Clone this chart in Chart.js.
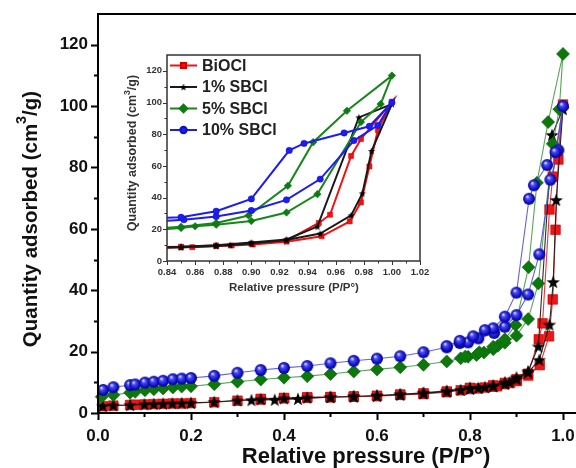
<!DOCTYPE html>
<html>
<head>
<meta charset="utf-8">
<title>N2 isotherms</title>
<script src="https://cdn.jsdelivr.net/npm/chart.js@4.4.0/dist/chart.umd.min.js"></script>
<style>
  html, body { margin: 0; padding: 0; background: #fff; }
  #wrap { position: relative; width: 576px; height: 468px; overflow: hidden; }
  #mainChart { position: absolute; left: 0; top: 0; }
  #insetChart { position: absolute; left: 115px; top: 45px; }
</style>
</head>
<body>
<div id="wrap">
  <canvas id="mainChart" width="576" height="468"></canvas>
  <canvas id="insetChart" width="320" height="260"></canvas>
</div>
<script>
"use strict";

// N2 adsorption-desorption isotherms: relative pressure P/P° vs quantity adsorbed (cm3/g)
const sampleNames = ['BiOCl', '1% SBCl', '5% SBCl', '10% SBCl'];

const bioclAdsP = [0.011, 0.033, 0.069, 0.080, 0.101, 0.120, 0.140, 0.161, 0.180, 0.200, 0.250, 0.300, 0.350, 0.400, 0.450, 0.500, 0.550, 0.600, 0.650, 0.700, 0.750, 0.780, 0.800, 0.818, 0.832, 0.850, 0.858, 0.875, 0.886, 0.901, 0.925, 0.950, 0.970, 0.978, 0.984, 0.990, 1.000];
const bioclAdsV = [2.2, 2.4, 2.6, 2.7, 2.8, 2.9, 3.0, 3.1, 3.1, 3.2, 3.5, 4.0, 4.4, 4.8, 5.0, 5.1, 5.3, 5.5, 5.9, 6.2, 6.8, 7.4, 7.8, 8.0, 8.3, 8.6, 8.7, 9.4, 9.8, 10.4, 12.2, 15.6, 25.0, 37.0, 59.7, 82.6, 100.5];
const bioclDesP = [0.978, 0.971, 0.956, 0.948, 0.925, 0.900, 0.875, 0.850, 0.800, 0.750, 0.700, 0.650, 0.600, 0.550, 0.500, 0.450, 0.400, 0.350];
const bioclDesV = [77.0, 66.3, 29.2, 24.0, 12.8, 11.0, 9.8, 9.0, 8.2, 7.0, 6.4, 6.0, 5.6, 5.4, 5.2, 5.1, 4.9, 4.6];

const sb1AdsP = [0.010, 0.033, 0.069, 0.100, 0.120, 0.140, 0.160, 0.180, 0.200, 0.250, 0.300, 0.350, 0.400, 0.450, 0.500, 0.550, 0.600, 0.650, 0.700, 0.750, 0.780, 0.800, 0.818, 0.832, 0.850, 0.875, 0.885, 0.900, 0.925, 0.949, 0.971, 0.979, 0.9855, 1.000];
const sb1AdsV = [2.3, 2.5, 2.6, 2.8, 2.9, 3.0, 3.1, 3.2, 3.3, 3.6, 4.1, 4.5, 4.8, 5.0, 5.2, 5.4, 5.6, 6.0, 6.4, 7.0, 7.5, 7.9, 8.2, 8.4, 8.7, 9.5, 10.0, 11.0, 13.2, 17.3, 28.8, 42.7, 69.4, 99.0];
const sb1DesP = [0.9765, 0.947, 0.925, 0.900, 0.875, 0.850, 0.800, 0.750, 0.700, 0.650, 0.600, 0.550, 0.500, 0.430, 0.380, 0.330];
const sb1DesV = [90.6, 21.7, 13.6, 11.6, 10.0, 9.0, 8.2, 7.2, 6.6, 6.1, 5.7, 5.4, 5.2, 4.6, 4.3, 4.2];

const sb5AdsP = [0.008, 0.033, 0.069, 0.080, 0.101, 0.120, 0.140, 0.161, 0.180, 0.200, 0.250, 0.300, 0.350, 0.400, 0.450, 0.500, 0.550, 0.600, 0.650, 0.700, 0.750, 0.780, 0.796, 0.814, 0.830, 0.850, 0.860, 0.875, 0.900, 0.925, 0.947, 0.978, 0.992, 1.000];
const sb5AdsV = [5.3, 5.9, 6.6, 6.9, 7.4, 7.7, 8.0, 8.3, 8.6, 8.7, 9.4, 10.2, 10.9, 11.5, 12.0, 12.7, 13.5, 14.2, 14.9, 15.7, 16.8, 17.8, 18.3, 18.9, 19.7, 20.8, 21.9, 22.9, 25.2, 30.6, 42.2, 87.7, 99.0, 117.0];
const sb5DesP = [0.968, 0.944, 0.926, 0.898, 0.875, 0.850, 0.820, 0.790];
const sb5DesV = [94.8, 75.0, 47.5, 28.7, 24.0, 21.6, 19.8, 18.4];

const sb10AdsP = [0.011, 0.033, 0.069, 0.080, 0.101, 0.120, 0.140, 0.161, 0.180, 0.200, 0.250, 0.300, 0.350, 0.400, 0.450, 0.500, 0.550, 0.600, 0.650, 0.700, 0.750, 0.778, 0.796, 0.818, 0.852, 0.875, 0.900, 0.925, 0.949, 0.973, 0.990, 1.000];
const sb10AdsV = [7.5, 8.4, 9.1, 9.3, 9.9, 10.2, 10.5, 11.0, 11.2, 11.4, 12.1, 13.1, 14.0, 14.7, 15.3, 16.2, 17.0, 17.7, 18.5, 19.8, 21.4, 22.8, 23.0, 24.3, 26.1, 28.1, 31.9, 38.6, 51.7, 76.0, 85.6, 100.0];
const sb10DesP = [0.984, 0.966, 0.9375, 0.927, 0.900, 0.875, 0.850, 0.832, 0.807, 0.778, 0.750];
const sb10DesV = [85.0, 80.8, 74.2, 69.8, 39.2, 31.4, 27.6, 27.0, 25.0, 23.5, 21.8];

// axis ticks
const mainXTicks = [0, 0.2, 0.4, 0.6, 0.8, 1.0];
const mainXMinor = [0.1, 0.3, 0.5, 0.7, 0.9];
const mainYTicks = [0, 20, 40, 60, 80, 100, 120];
const mainYMinor = [10, 30, 50, 70, 90, 110];
const insetXTicks = [0.84, 0.86, 0.88, 0.90, 0.92, 0.94, 0.96, 0.98, 1.00, 1.02];
const insetXMinor = [0.85, 0.87, 0.89, 0.91, 0.93, 0.95, 0.97, 0.99, 1.01];
const insetYTicks = [0, 20, 40, 60, 80, 100, 120];
const insetYMinor = [10, 30, 50, 70, 90, 110];

const FONT = "'Liberation Sans', Arial, Helvetica, sans-serif";

// adsorption branch up to P/P°=1, then back down along desorption
function loop(adsP, adsV, desP, desV) {
  const pts = adsP.map((p, i) => ({ x: p, y: adsV[i] }));
  desP.forEach((p, i) => pts.push({ x: p, y: desV[i] }));
  return pts;
}

const loops = [
  loop(bioclAdsP, bioclAdsV, bioclDesP, bioclDesV),
  loop(sb1AdsP, sb1AdsV, sb1DesP, sb1DesV),
  loop(sb5AdsP, sb5AdsV, sb5DesP, sb5DesV),
  loop(sb10AdsP, sb10AdsV, sb10DesP, sb10DesV)
];

// marker sprites
function starImage(r, color) {
  const s = Math.ceil(r * 2 + 2);
  const c = document.createElement('canvas');
  c.width = c.height = s;
  const g = c.getContext('2d');
  g.translate(s / 2, s / 2 + r * 0.08);
  g.beginPath();
  for (let k = 0; k < 10; k++) {
    const rr = k % 2 ? r * 0.42 : r;
    const a = -Math.PI / 2 + k * Math.PI / 5;
    g.lineTo(rr * Math.cos(a), rr * Math.sin(a));
  }
  g.closePath();
  g.fillStyle = color;
  g.fill();
  return c;
}

function sphereImage(r) {
  const s = Math.ceil(r * 2 + 2);
  const c = document.createElement('canvas');
  c.width = c.height = s;
  const g = c.getContext('2d');
  g.translate(s / 2, s / 2);
  const grad = g.createRadialGradient(-r * 0.3, -r * 0.38, r * 0.05, 0, 0, r);
  grad.addColorStop(0, '#e4e4ff');
  grad.addColorStop(0.3, '#4b4bf0');
  grad.addColorStop(0.75, '#1010c8');
  grad.addColorStop(1, '#00008a');
  g.beginPath();
  g.arc(0, 0, r, 0, Math.PI * 2);
  g.fillStyle = grad;
  g.fill();
  return c;
}

// frame and outward tick marks
const axisFrame = {
  id: 'axisFrame',
  afterDatasetsDraw(chart, args, o) {
    const { ctx, chartArea: a, scales: { x, y } } = chart;
    ctx.save();
    ctx.strokeStyle = o.color;
    ctx.lineWidth = o.width;
    ctx.lineCap = 'square';
    ctx.beginPath();
    ctx.moveTo(a.left, a.bottom);
    ctx.lineTo(a.left, a.top);
    ctx.lineTo(a.right, a.top);
    if (o.box) ctx.lineTo(a.right, a.bottom);
    ctx.moveTo(a.left, a.bottom);
    ctx.lineTo(a.right, a.bottom);
    ctx.stroke();

    ctx.lineCap = 'butt';
    ctx.lineWidth = o.tickWidth;
    ctx.beginPath();
    const xt = (vals, len) => vals.forEach(v => {
      const px = Math.round(x.getPixelForValue(v)) + 0.5;
      ctx.moveTo(px, a.bottom);
      ctx.lineTo(px, a.bottom + len);
    });
    const yt = (vals, len) => vals.forEach(v => {
      const py = Math.round(y.getPixelForValue(v)) + 0.5;
      ctx.moveTo(a.left - len, py);
      ctx.lineTo(a.left, py);
    });
    xt(o.xMajor, o.majorLen); xt(o.xMinor, o.minorLen);
    yt(o.yMajor, o.majorLen); yt(o.yMinor, o.minorLen);
    ctx.stroke();
    ctx.restore();
  }
};

// axis titles, y title carries a superscript
function drawParts(ctx, parts, size) {
  const sup = size * 0.7;
  const widths = parts.map((t, i) => {
    ctx.font = `bold ${i === 1 ? sup : size}px ${FONT}`;
    return ctx.measureText(t).width;
  });
  let cx = -widths.reduce((s, w) => s + w, 0) / 2;
  parts.forEach((t, i) => {
    ctx.font = `bold ${i === 1 ? sup : size}px ${FONT}`;
    ctx.fillText(t, cx, i === 1 ? -size * 0.42 : 0);
    cx += widths[i];
  });
}

const axisTitles = {
  id: 'axisTitles',
  afterDraw(chart, args, o) {
    const ctx = chart.ctx;
    ctx.save();
    ctx.fillStyle = o.color;
    ctx.textBaseline = 'middle';
    ctx.textAlign = 'center';
    ctx.font = `bold ${o.xSize}px ${FONT}`;
    ctx.fillText(o.xText, o.xPos[0], o.xPos[1]);
    ctx.translate(o.yPos[0], o.yPos[1]);
    ctx.rotate(-Math.PI / 2);
    ctx.textAlign = 'left';
    drawParts(ctx, o.yParts, o.ySize);
    ctx.restore();
  }
};

// line + marker legend inside the inset
const insetLegend = {
  id: 'insetLegend',
  afterDraw(chart, args, o) {
    const ctx = chart.ctx;
    ctx.save();
    chart.data.datasets.forEach((ds, i) => {
      const y = o.top + i * o.gap;
      ctx.strokeStyle = ds.borderColor;
      ctx.lineWidth = ds.borderWidth;
      ctx.beginPath();
      ctx.moveTo(o.left, y);
      ctx.lineTo(o.left + o.lineLen, y);
      ctx.stroke();
      ctx.fillStyle = ds.pointBackgroundColor;
      ctx.strokeStyle = ds.pointBorderColor;
      Chart.helpers.drawPoint(ctx, {
        pointStyle: ds.pointStyle, radius: ds.pointRadius, rotation: 0, borderWidth: 0.5
      }, o.left + o.lineLen / 2, y);
      ctx.fillStyle = o.color;
      ctx.font = `bold ${o.size}px ${FONT}`;
      ctx.textBaseline = 'middle';
      ctx.textAlign = 'left';
      ctx.fillText(ds.label, o.left + o.lineLen + o.textGap, y + 1);
    });
    ctx.restore();
  }
};

function fixedScale(ticks, size, fmt, fit) {
  return {
    type: 'linear',
    afterBuildTicks: s => { s.ticks = ticks.map(v => ({ value: v })); },
    afterFit: fit,
    grid: { display: false, drawTicks: false },
    border: { display: false },
    ticks: {
      autoSkip: false, maxRotation: 0, color: '#111',
      font: { family: FONT, size: size, weight: 'bold' },
      callback: fmt
    }
  };
}

// main isotherm plot
const mainStyles = [
  { borderColor: 'rgba(225,20,20,0.85)', pointStyle: 'rect', pointRadius: 6.8, pointBackgroundColor: '#f01414', pointBorderColor: '#c40000' },
  { borderColor: 'rgba(20,20,20,0.9)', pointStyle: starImage(7, '#050505'), pointRadius: 7, pointBackgroundColor: '#000', pointBorderColor: '#000' },
  { borderColor: 'rgba(50,140,50,0.8)', pointStyle: 'rectRot', pointRadius: 6.5, pointBackgroundColor: '#0c780c', pointBorderColor: '#0a600a' },
  { borderColor: 'rgba(70,70,215,0.85)', pointStyle: sphereImage(6), pointRadius: 6, pointBackgroundColor: '#1010c8', pointBorderColor: '#00008a' }
];
const drawOrder = [3, 2, 1, 0];

const mainX = fixedScale(mainXTicks, 17, v => v.toFixed(1), s => { s.height = 55; s.paddingLeft = 0; s.paddingRight = 0; });
mainX.min = 0; mainX.max = 1.028; mainX.ticks.padding = 13;
const mainY = fixedScale(mainYTicks, 17, v => String(v), s => { s.width = 98; s.paddingTop = 0; s.paddingBottom = 0; });
mainY.min = 0; mainY.max = 130; mainY.ticks.padding = 10;

new Chart(document.getElementById('mainChart'), {
  type: 'scatter',
  data: {
    datasets: loops.map((pts, i) => Object.assign({
      label: sampleNames[i], data: pts, showLine: true, borderWidth: 1.1,
      pointBorderWidth: 0.6, order: drawOrder[i], clip: false
    }, mainStyles[i]))
  },
  options: {
    responsive: false, animation: false, devicePixelRatio: 1,
    layout: { autoPadding: false, padding: { top: 14, right: 0, left: 0, bottom: 0 } },
    scales: { x: mainX, y: mainY },
    plugins: {
      legend: { display: false }, tooltip: { enabled: false },
      axisFrame: { color: '#000', width: 2, box: false, tickWidth: 2, majorLen: 7, minorLen: 4,
        xMajor: mainXTicks, xMinor: mainXMinor, yMajor: mainYTicks, yMinor: mainYMinor },
      axisTitles: { color: '#111', xText: 'Relative pressure (P/P°)', xSize: 22, xPos: [366, 457],
        yParts: ['Quantity adsorbed (cm', '3', '/g)'], ySize: 20.5, yPos: [31, 219] }
    }
  },
  plugins: [axisFrame, axisTitles]
});

// inset: zoom on the hysteresis loops
const insetStyles = [
  { borderColor: '#f41010', pointStyle: 'rect', pointRadius: 3.6, pointBackgroundColor: '#f41010', pointBorderColor: '#d00000' },
  { borderColor: '#1a1a1a', pointStyle: starImage(3.8, '#000'), pointRadius: 3.8, pointBackgroundColor: '#000', pointBorderColor: '#000' },
  { borderColor: '#16871a', pointStyle: 'rectRot', pointRadius: 3.8, pointBackgroundColor: '#0f7a12', pointBorderColor: '#0f7a12' },
  { borderColor: '#1c1cf4', pointStyle: 'circle', pointRadius: 3.2, pointBackgroundColor: '#1c1cf4', pointBorderColor: '#1010c0' }
];

const insetX = fixedScale(insetXTicks, 9.5, v => v.toFixed(2), s => { s.height = 44; s.paddingLeft = 0; s.paddingRight = 0; });
insetX.min = 0.84; insetX.max = 1.02; insetX.ticks.padding = 6; insetX.ticks.color = '#333';
const insetY = fixedScale(insetYTicks, 9.5, v => String(v), s => { s.width = 52; s.paddingTop = 0; s.paddingBottom = 0; });
insetY.min = 0; insetY.max = 130; insetY.ticks.padding = 5; insetY.ticks.color = '#333';

new Chart(document.getElementById('insetChart'), {
  type: 'scatter',
  data: {
    datasets: loops.map((pts, i) => Object.assign({
      label: sampleNames[i], data: pts, showLine: true, borderWidth: 2,
      pointBorderWidth: 0.5, order: drawOrder[i]
    }, insetStyles[i]))
  },
  options: {
    responsive: false, animation: false, devicePixelRatio: 1,
    layout: { autoPadding: false, padding: { top: 10, right: 15, left: 0, bottom: 0 } },
    scales: { x: insetX, y: insetY },
    plugins: {
      legend: { display: false }, tooltip: { enabled: false },
      axisFrame: { color: '#333', width: 1.5, box: true, tickWidth: 1, majorLen: 4, minorLen: 2.5,
        xMajor: insetXTicks, xMinor: insetXMinor, yMajor: insetYTicks, yMinor: insetYMinor },
      axisTitles: { color: '#333', xText: 'Relative pressure (P/P°)', xSize: 11.5, xPos: [179, 243],
        yParts: ['Quantity adsorbed (cm', '3', '/g)'], ySize: 12.5, yPos: [18, 108] },
      insetLegend: { left: 55, top: 20.5, gap: 21.5, lineLen: 27, textGap: 5, size: 16, color: '#222' }
    }
  },
  plugins: [axisFrame, axisTitles, insetLegend]
});
</script>
</body>
</html>
